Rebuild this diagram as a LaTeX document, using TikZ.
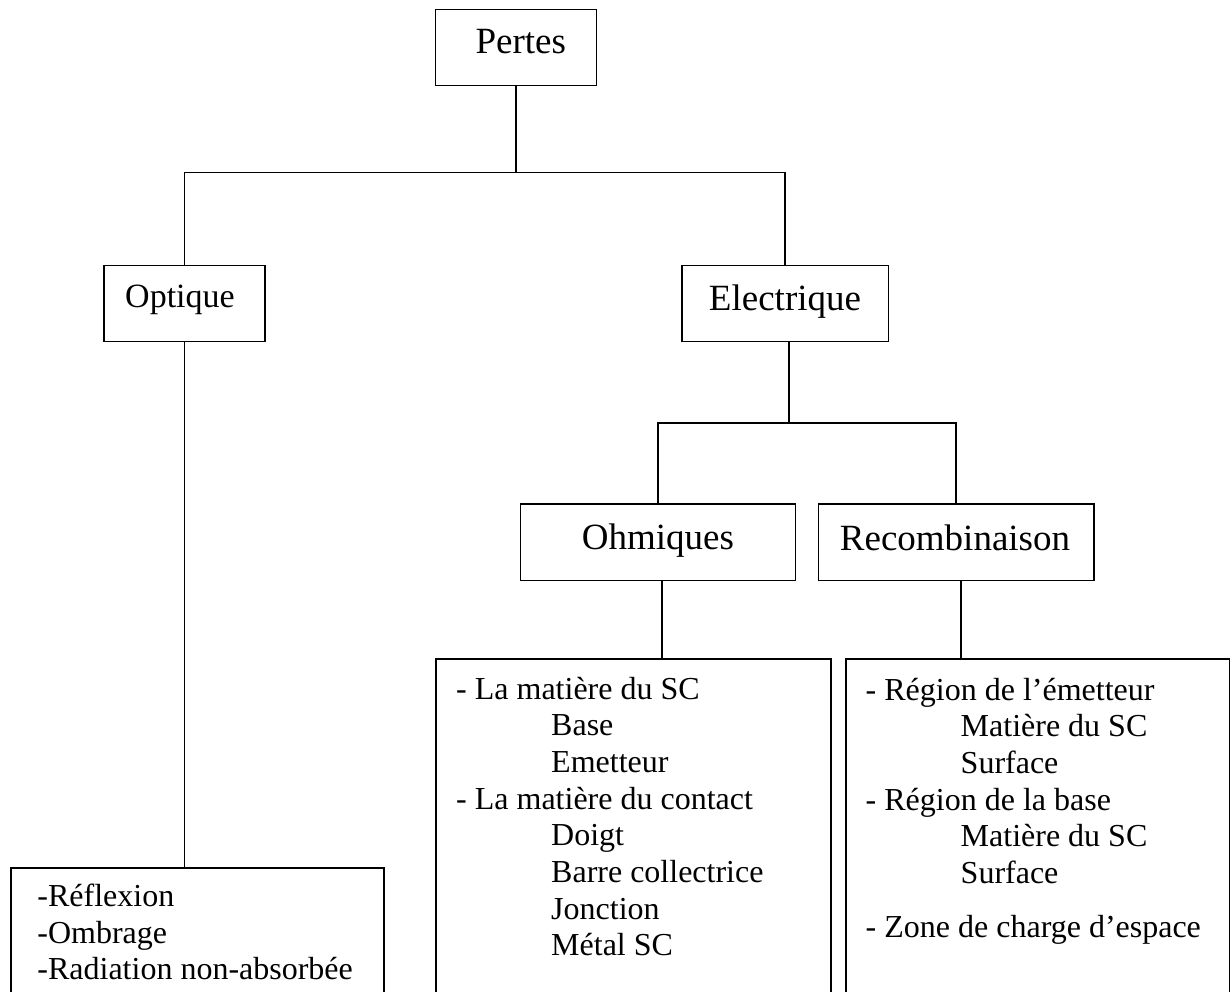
\documentclass[tikz,border=0pt]{standalone}
\usepackage{fontspec}
\setmainfont{Liberation Serif}
\begin{document}
\begin{tikzpicture}[x=1pt,y=-1pt,
  box/.style={draw, line width=1.4pt, rectangle, inner sep=0pt},
  hdr/.style={font=\fontsize{37}{44}\selectfont, inner sep=0pt, anchor=base},
  item/.style={font=\fontsize{32}{37}\selectfont, inner sep=0pt, anchor=base west},
  link/.style={line width=1.5pt}]
\useasboundingbox (0,0) rectangle (1231,992);
\clip (0,0) rectangle (1231,992);
\fill[white] (0,0) rectangle (1231,992);

% header boxes
\node[box, minimum width=161pt, minimum height=76.4pt] (pertes) at (516.2,47.5) {};
\node[box, minimum width=161pt, minimum height=76.4pt] (optique) at (184.5,303.5) {};
\node[box, minimum width=206.3pt, minimum height=76.4pt] (electrique) at (785.2,303.5) {};
\node[box, minimum width=275pt, minimum height=76.7pt] (ohmiques) at (658.2,542.3) {};
\node[box, minimum width=275.7pt, minimum height=76.7pt] (recomb) at (956.2,542.3) {};

% header texts
\node[hdr] (tpertes) at (520.8,54) {Pertes};
\node[hdr, font=\fontsize{34}{40}\selectfont] (toptique) at (180,307.3) {Optique};
\node[hdr] (telectrique) at (785,310) {Electrique};
\node[hdr] (tohmiques) at (658,549.3) {Ohmiques};
\node[hdr] (trecomb) at (955,550) {Recombinaison};

% list boxes (cut by the lower edge)
\node[box, minimum width=373pt, minimum height=142pt] (optlist) at (197.5,939) {};
\node[box, minimum width=395pt, minimum height=351pt] (ohmlist) at (633.5,834.5) {};
\node[box, minimum width=383.3pt, minimum height=351pt] (reclist) at (1037.65,834.5) {};

% list texts
\foreach \t [count=\i from 0] in {-Réflexion,-Ombrage,-Radiation non-absorbée}
  \node[item] (opt\i) at (37.2,{906.7+36.3*\i}) {\t};
\foreach \ind/\t [count=\i from 0] in {0/{- La matière du SC},1/Base,1/Emetteur,0/{- La matière du contact},1/Doigt,1/{Barre collectrice},1/Jonction,1/{Métal SC}}
  \node[item] (ohm\i) at ({456+95*\ind},{699.3+36.67*\i}) {\t};
\foreach \ind/\t [count=\i from 0] in {0/{- Région de l’émetteur},1/{Matière du SC},1/Surface,0/{- Région de la base},1/{Matière du SC},1/Surface}
  \node[item] (rec\i) at ({865.5+95*\ind},{700+36.67*\i}) {\t};
\node[item] (rec6) at (865.5,937) {- Zone de charge d’espace};

% connectors
\draw[link] (pertes.south) -- ++(0,86.2) coordinate (j1);
\draw[link] (optique.north) -- (optique.north |- j1) -- (electrique.north |- j1) -- (electrique.north);
\draw[link] ([xshift=4pt]electrique.south) -- ++(0,80.6) coordinate (j2);
\draw[link] (ohmiques.north) -- (ohmiques.north |- j2) -- (recomb.north |- j2) -- (recomb.north);
\draw[link] (optique.south) -- (optique.south |- optlist.north);
\draw[link] ([xshift=4pt]ohmiques.south) -- ([xshift=4pt]ohmiques.south |- ohmlist.north);
\draw[link] ([xshift=5pt]recomb.south) -- ([xshift=5pt]recomb.south |- reclist.north);
\end{tikzpicture}
\end{document}
